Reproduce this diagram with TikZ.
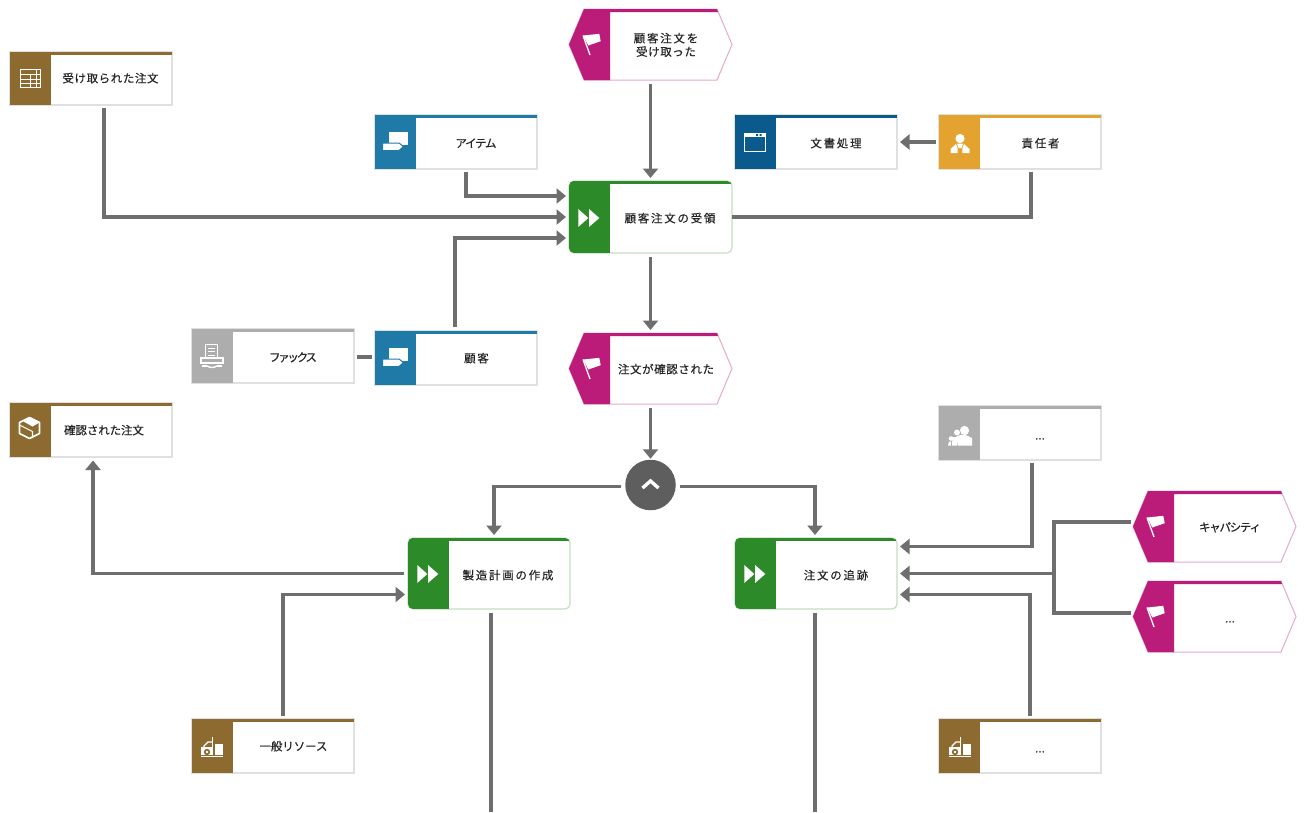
\documentclass[tikz,border=0pt]{standalone}
\usepackage{fontspec}
\usetikzlibrary{arrows.meta}
\setmainfont[FakeBold=0.3]{Noto Sans CJK JP}
\newfontfamily\fkan[LetterSpace=15,FakeBold=0.3]{Noto Sans CJK JP}
\newfontfamily\fmix[LetterSpace=5,FakeBold=0.3]{Noto Sans CJK JP}
\newfontfamily\fone[LetterSpace=-1,FakeBold=0.3]{Noto Sans CJK JP}
\newfontfamily\fkat[LetterSpace=-11,FakeBold=0.3]{Noto Sans CJK JP}
\newfontfamily\ffax[LetterSpace=-20,FakeBold=0.3]{Noto Sans CJK JP}
\definecolor{cgreen}{HTML}{2C8A28}
\definecolor{cmag}{HTML}{BB1C7A}
\definecolor{cbrown}{HTML}{8C6A30}
\definecolor{cblue}{HTML}{1F7AA8}
\definecolor{cdblue}{HTML}{0B5A8E}
\definecolor{corange}{HTML}{E4A22E}
\definecolor{cgray}{HTML}{ADADAD}
\definecolor{ccirc}{HTML}{5E5E5E}
\definecolor{cline}{HTML}{6E6E6E}
\definecolor{bgray}{HTML}{E0E0E0}
\definecolor{bgreen}{HTML}{C6DEC6}
\definecolor{bpink}{HTML}{E2AACB}
\tikzset{
  conn/.style={draw=cline,line width=3.4pt},
  arr/.style={conn,-{Triangle[length=9.5pt,width=15pt]}},
  lab/.style={inner sep=0pt,outer sep=0pt,text=black!85,align=center,
    font=\fontsize{11.5}{14}\selectfont,text height=9pt,text depth=2pt},
  holder/.style={inner sep=0pt,outer sep=0pt},
  ico/.style={white,fill=white,draw=none},
  icol/.style={draw=white,line width=1pt,fill=none}
}
% name x1 y1 x2 y2 colour border radius
\newcommand{\cardshape}[8]{%
  \node[holder,minimum width={#4-#2},minimum height={#5-#3}] (#1) at ({(#2+#4)/2},{(#3+#5)/2}) {};
  \path[fill=white,draw=#7,line width=1.2pt,rounded corners=#8pt] (#2,#3) rectangle (#4,#5);
  \begin{scope}
    \clip[rounded corners=#8pt] (#2,#3) rectangle (#4,#5);
    \fill[#6] (#2,#3) rectangle ({#2+41},#5);
    \fill[#6] (#2,#3) rectangle (#4,{#3+3});
  \end{scope}}
% name x1 y1 x2 y2
\newcommand{\eventshape}[5]{%
  \node[holder,minimum width={#4-#2},minimum height={#5-#3}] (#1) at ({(#2+#4)/2},{(#3+#5)/2}) {};
  \path[fill=white,draw=bpink,line width=1pt] ({#2+15},#3) -- ({#4-15},#3) -- (#4,{(#3+#5)/2}) -- ({#4-15},#5) -- ({#2+15},#5) -- (#2,{(#3+#5)/2}) -- cycle;
  \fill[cmag] ({#2+15},#3) -- ({#4-15},#3) -- ({#4-14},{#3+3}) -- ({#2+41},{#3+3}) -- ({#2+41},#5) -- ({#2+15},#5) -- (#2,{(#3+#5)/2}) -- cycle;
  \begin{scope}[shift={({#2+20},{(#3+#5)/2})}]
    \fill[white] (-5.7,-9) -- (10.3,-10.7) -- (11.7,-3.3) -- (-0.7,1) -- cycle;
    \draw[white,line width=1.3pt] (-6,-9) -- (1,10.5);
  \end{scope}}
\newcommand{\iconplay}[2]{\begin{scope}[shift={(#1,#2)}]
  \fill[white] (-10.7,-9) -- (-0.7,0) -- (-10.7,9) -- cycle;
  \fill[white] (0,-9) -- (10.3,0) -- (0,9) -- cycle;
\end{scope}}
\newcommand{\icontag}[3]{\begin{scope}[shift={(#1,#2)}]
  \fill[white] (-6,-10) rectangle (12.7,3);
  \fill[white,draw=#3,line width=1pt] (-12.5,1) -- (4,1) -- (8.5,4.5) -- (4,8.5) -- (-12.5,8.5) -- cycle;
\end{scope}}
\newcommand{\iconforklift}[2]{\begin{scope}[shift={(#1,#2)}]
  \draw[white,line width=1.2pt] (-11,9.5) -- (11,9.5);
  \fill[white] (3,-3) rectangle (11,7.5);
  \draw[white,line width=1.2pt] (0.5,-10) -- (0.5,7.5);
  \draw[white,line width=1.1pt] (-8,7.5) -- (-8,-1) -- (-4,-5) -- (0,-5);
  \fill[white] (-11,0) rectangle (0,7.5);
  \fill[cbrown] (-5,5) circle (3.2);
  \fill[white] (-5,5) circle (1.4);
\end{scope}}
\begin{document}
\begin{tikzpicture}[x=1pt,y=-1pt]
\useasboundingbox[fill=white] (0,0) rectangle (1304,812);

% --- events
\eventshape{evA}{569}{9}{732}{80}
\node[lab,text height=22pt,text depth=2pt,font=\fkan\fontsize{11.5}{13.5}\selectfont] (evAt) at (666,46) {顧客注文を\\\fmix 受け取った};
\eventshape{evB}{569}{333}{732}{404}
\node[lab,font=\fmix\fontsize{11.5}{14}\selectfont] (evBt) at (666,370) {注文が確認された};
\eventshape{evC}{1133}{491}{1296}{562}
\node[lab,font=\fkat\fontsize{11.5}{14}\selectfont] (evCt) at (1230,528) {キャパシティ};
\eventshape{evD}{1133}{581}{1296}{652}
\node[lab] (evDt) at (1230,619) {...};

% --- functions
\cardshape{fnA}{569}{181}{732}{253}{cgreen}{bgreen}{5}
\iconplay{589}{218}
\node[lab,font=\fkan\fontsize{11.5}{14}\selectfont] (fnAt) at (670,219) {顧客注文の受領};
\cardshape{fnB}{408}{538}{570}{609}{cgreen}{bgreen}{5}
\iconplay{428}{574}
\node[lab,font=\fkan\fontsize{11.5}{14}\selectfont] (fnBt) at (508,576) {製造計画の作成};
\cardshape{fnC}{735}{538}{897}{609}{cgreen}{bgreen}{5}
\iconplay{755}{574}
\node[lab,font=\fkan\fontsize{11.5}{14}\selectfont] (fnCt) at (836,576) {注文の追跡};

% --- received order
\cardshape{recv}{10}{52}{172}{105}{cbrown}{bgray}{0}
\begin{scope}[shift={(30,78)}]
  \draw[icol] (-10,-9) rectangle (10,9);
  \draw[icol] (-10,-4) -- (10,-4) (-10,1) -- (10,1) (-10,5.5) -- (10,5.5) (0,-4) -- (0,9) (6,-9) -- (6,9);
\end{scope}
\node[lab,font=\fmix\fontsize{11.5}{14}\selectfont] (recvt) at (110.5,79) {受け取られた注文};

% --- item
\cardshape{item}{375}{115}{537}{169}{cblue}{bgray}{0}
\icontag{395}{142}{cblue}
\node[lab,font=\fkat\fontsize{11.5}{14}\selectfont] (itemt) at (476,144) {アイテム};

% --- word processing
\cardshape{word}{735}{115}{897}{169}{cdblue}{bgray}{0}
\begin{scope}[shift={(755,142)}]
  \draw[icol] (-10.5,-9) rectangle (10.5,9);
  \fill[white] (-10.5,-9) rectangle (10.5,-5);
  \fill[cdblue] (1,-8) rectangle (3,-6) (4.5,-8) rectangle (6.5,-6);
\end{scope}
\node[lab,font=\fkan\fontsize{11.5}{14}\selectfont] (wordt) at (836,144) {文書処理};

% --- responsible
\cardshape{resp}{939}{115}{1101}{169}{corange}{bgray}{0}
\begin{scope}[shift={(960,142)}]
  \fill[white] (0,-3.5) circle (4.6);
  \fill[white] (-3,1.5) -- (3,1.5) -- (1.5,6) -- (-1.5,6) -- cycle;
  \fill[white] (-4,2) -- (-2.3,6.5) -- (-2.3,11) -- (-9.5,11) -- (-9.5,7) -- cycle;
  \fill[white] (4,2) -- (2.3,6.5) -- (2.3,11) -- (9.5,11) -- (9.5,7) -- cycle;
\end{scope}
\node[lab,font=\fkan\fontsize{11.5}{14}\selectfont] (respt) at (1040.5,144) {責任者};

% --- fax
\cardshape{fax}{192}{329}{354}{383}{cgray}{bgray}{0}
\begin{scope}[shift={(212,355)}]
  \draw[icol] (-6.5,-11) rectangle (5.5,3);
  \draw[icol] (-4,-7) -- (3,-7) (-4,-3.5) -- (3,-3.5) (-4,0) -- (3,0);
  \draw[icol,line width=1.4pt] (-11,8) -- (-11,3) -- (11,3) -- (11,8) -- cycle;
  \draw[white,line width=2.2pt] (-10,11) -- (-5,11) (5,11) -- (10,11);
  \draw[white,line width=1.4pt] (-5,11) to[bend right=30] (5,11);
\end{scope}
\node[lab,font=\ffax\fontsize{11.5}{14}\selectfont] (faxt) at (293,358) {ファックス};

% --- customer
\cardshape{cust}{375}{331}{537}{385}{cblue}{bgray}{0}
\icontag{395}{358}{cblue}
\node[lab,font=\fkan\fontsize{11.5}{14}\selectfont] (custt) at (476.5,359) {顧客};

% --- confirmed order
\cardshape{conf}{10}{403}{172}{457}{cbrown}{bgray}{0}
\begin{scope}[shift={(29.5,428)}]
  \draw[white,line width=1.6pt,line join=round] (0,-10.5) -- (10,-5.5) -- (10,5.5) -- (0,10.5) -- (-10,5.5) -- (-10,-5.5) -- cycle;
  \fill[white] (0,-10.5) -- (10,-5.5) -- (3,-1.5) -- (-6,-6.5) -- cycle;
  \draw[white,line width=1.1pt] (-10,-3) -- (3,3.5) -- (3,10);
\end{scope}
\node[lab,font=\fone\fontsize{11.5}{14}\selectfont] (conft) at (104,431) {確認された注文};

% --- gray group
\cardshape{grp}{939}{406}{1101}{460}{cgray}{bgray}{0}
\begin{scope}[shift={(960,436)}]
  \fill[white] (4.5,-5.5) circle (4.6);
  \fill[white] (-3.5,-1) -- (3,-1) -- (6,-1) -- (12,2) -- (12,9.5) -- (-3,9.5) -- cycle;
  \fill[cgray] (-3,-3.5) circle (3.7);
  \fill[white] (-3,-3.5) circle (3);
  \fill[cgray] (-6.5,1) rectangle (-2.5,9.5);
  \fill[white] (-7.5,1) -- (-1,1) -- (-2.8,9.5) -- (-8,9.5) -- cycle;
  \fill[white] (-9,2.5) circle (2.3);
  \fill[white] (-12,9.5) -- (-11,5.5) -- (-8.8,5.5) -- (-8.8,9.5) -- cycle;
\end{scope}
\node[lab] (grpt) at (1040,436) {...};

% --- general resource
\cardshape{resA}{192}{719}{354}{773}{cbrown}{bgray}{0}
\iconforklift{212}{747}
\node[lab,font=\fone\fontsize{11.5}{14}\selectfont] (resAt) at (293.5,747) {一般リソース};

% --- resource ...
\cardshape{resB}{939}{719}{1101}{773}{cbrown}{bgray}{0}
\iconforklift{960}{747}
\node[lab] (resBt) at (1040,749) {...};

% --- gateway
\node[circle,fill=ccirc,minimum size=50.5pt,inner sep=0pt,outer sep=0pt] (gate) at (650.5,485) {};
\draw[white,line width=3.4pt,line join=miter] ([shift={(-8,3)}]gate.center) -- ([shift={(0,-4)}]gate.center) -- ([shift={(8,3)}]gate.center);

% --- free ends and junction
\coordinate (endB) at (491,812);
\coordinate (endC) at (815,812);
\coordinate (jn) at (1054,573.5);

% --- connectors
\draw[arr] ([shift={(0,4)}]evA.south) -- ([shift={(0,-3)}]fnA.north);
\draw[arr] ([shift={(13,3)}]recv.south) |- ([shift={(-3,0)}]fnA.west);
\draw[arr] ([shift={(10,3)}]item.south) |- ([shift={(-3,-21)}]fnA.west);
\draw[arr] ([shift={(-1,-4)}]cust.north) |- ([shift={(-3,21)}]fnA.west);
\draw[conn] (fnA.east) -| ([shift={(11,3)}]resp.south);
\draw[arr] ([shift={(-3,0)}]resp.west) -- ([shift={(3,0)}]word.east);
\draw[arr] ([shift={(0,4)}]fnA.south) -- ([shift={(0,-3)}]evB.north);
\draw[conn] ([shift={(3,1)}]fax.east) -- ([shift={(-3,-1)}]cust.west);
\draw[arr] ([shift={(0,4)}]evB.south) -- ([shift={(0,-1)}]gate.north);
\draw[arr] ([shift={(-4,1.7)}]gate.west) -| ([shift={(5,-3)}]fnB.north);
\draw[arr] ([shift={(4,1.7)}]gate.east) -| ([shift={(-1,-3)}]fnC.north);
\draw[arr] ([shift={(-4,0)}]fnB.west) -| ([shift={(2,3.5)}]conf.south);
\draw[arr] ([shift={(10,-3)}]resA.north) |- ([shift={(-3,21)}]fnB.west);
\draw[arr] ([shift={(12,3)}]grp.south) |- ([shift={(3,-27)}]fnC.east);
\draw[arr] (jn) -- ([shift={(3,0)}]fnC.east);
\draw[arr] ([shift={(10,-3)}]resB.north) |- ([shift={(3,21)}]fnC.east);
\draw[conn] ([shift={(-2,-4.5)}]evC.west) -| (jn);
\draw[conn] ([shift={(-2,-3.5)}]evD.west) -| (jn);
\draw[conn] ([shift={(2,4)}]fnB.south) -- (endB);
\draw[conn] ([shift={(-1,4)}]fnC.south) -- (endC);
\end{tikzpicture}
\end{document}
